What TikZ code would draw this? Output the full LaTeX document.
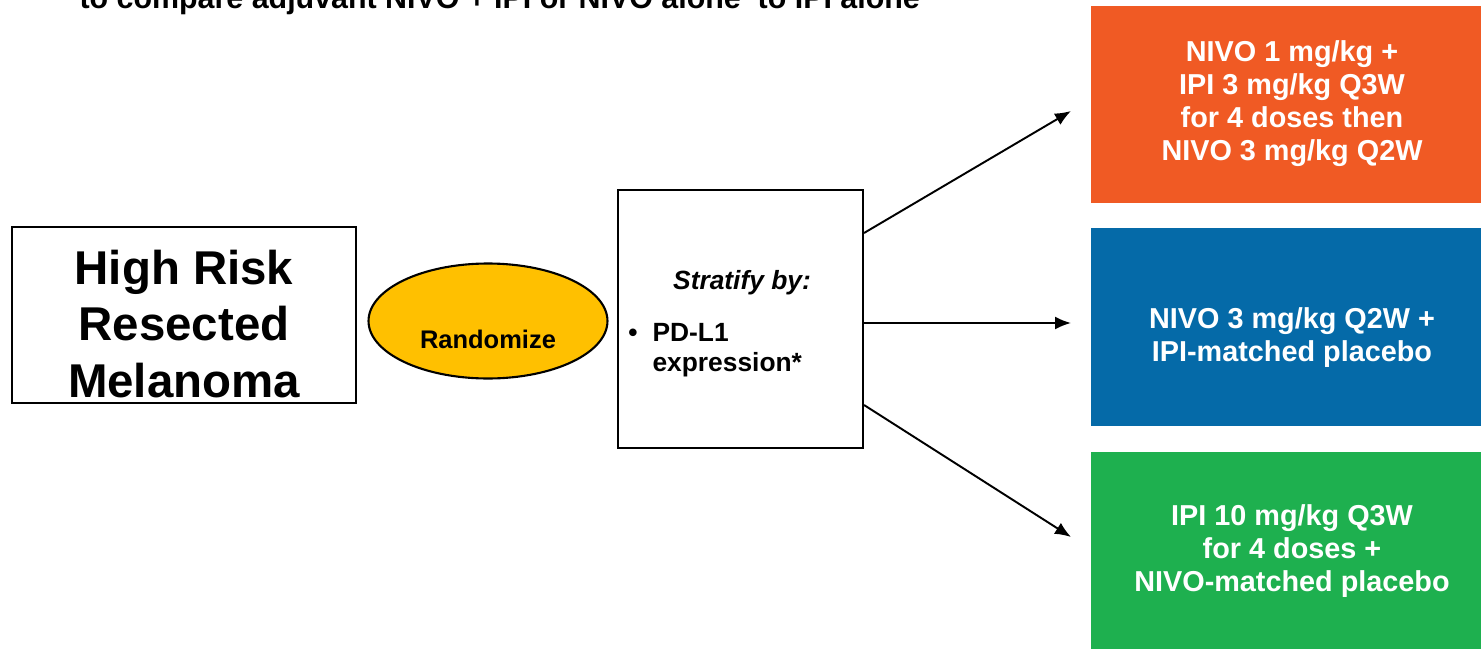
\documentclass[tikz,border=0pt]{standalone}
\usepackage{fontspec}
\setmainfont{Liberation Sans}
\usetikzlibrary{shapes.geometric, arrows.meta, positioning, calc}

\definecolor{armorange}{HTML}{F05A24}
\definecolor{armblue}{HTML}{056AA8}
\definecolor{armgreen}{HTML}{1EB04F}
\definecolor{randgold}{HTML}{FFC000}

\begin{document}
\begin{tikzpicture}[x=0.02cm, y=-0.02cm, thick]
        \tikzset{
            outline/.style={draw, line width=1.2pt, inner sep=0pt},
            armbox/.style={inner sep=0pt, minimum width=7.8cm, minimum height=3.96cm},
            armtext/.style={text=white, align=center, font=\fontsize{16.4}{18.9}\selectfont\bfseries},
            arrow/.style={line width=1.1pt, -{Latex[length=3.2mm, width=2.6mm]}}
        }
        \useasboundingbox (0,0) rectangle (1481,649);

        % Title (cut at the top)
        \node[font=\fontsize{17.3}{20}\selectfont\bfseries, anchor=base west] (title) at (73,9) {to compare adjuvant NIVO + IPI or NIVO alone\ \ to IPI alone};

        % Left side
        \node[outline, minimum width=6.88cm, minimum height=3.52cm] (risk) at (184,315) {};
        \node[align=center, font=\fontsize{27}{32.3}\selectfont\bfseries] (risktext) at (184,324) {High Risk\\Resected\\Melanoma};
        \node[outline, ellipse, fill=randgold, minimum width=4.78cm, minimum height=2.3cm] (rand) at (488,321) {};
        \node[font=\fontsize{14.5}{17}\selectfont\bfseries] (randtext) at (488,339) {Randomize};
        \node[outline, minimum width=4.9cm, minimum height=5.16cm] (strat) at (740.5,319) {};
        \node[font=\fontsize{15}{17}\selectfont\bfseries\itshape] (stratby) at (742,283) {Stratify by:};
        \node[font=\fontsize{15}{17}\selectfont\bfseries, align=left, anchor=north west] (pdl1) at (646,317) {PD-L1\\expression*};
        \node[font=\fontsize{15}{17}\selectfont\bfseries, anchor=base] (bullet) at (633,341) {•};

        % Treatment arms
        \node[armbox, fill=armorange] (armA) at (1286,104.5) {};
        \node[armtext] (armAtext) at (1292,103.5) {NIVO 1 mg/kg +\\IPI 3 mg/kg Q3W\\for 4 doses then\\NIVO 3 mg/kg Q2W};
        \node[armbox, fill=armblue] (armB) at (1286,327) {};
        \node[armtext] (armBtext) at (1292,337.5) {NIVO 3 mg/kg Q2W +\\IPI-matched placebo};
        \node[armbox, fill=armgreen] (armC) at (1286,550.5) {};
        \node[armtext] (armCtext) at (1292,551) {IPI 10 mg/kg Q3W\\for 4 doses +\\NIVO-matched placebo};

        % Arrows
        \coordinate (outA) at (strat.east |- 0,233);
        \coordinate (outB) at (strat.east |- 0,323);
        \coordinate (outC) at (strat.east |- 0,405);
        \coordinate (tipA) at (1071,111);
        \coordinate (tipB) at (1071,323);
        \coordinate (tipC) at (1071,537);
        \draw[arrow] (outA) -- (tipA);
        \draw[arrow] (outB) -- (tipB);
        \draw[arrow] (outC) -- (tipC);
    \end{tikzpicture}
\end{document}
